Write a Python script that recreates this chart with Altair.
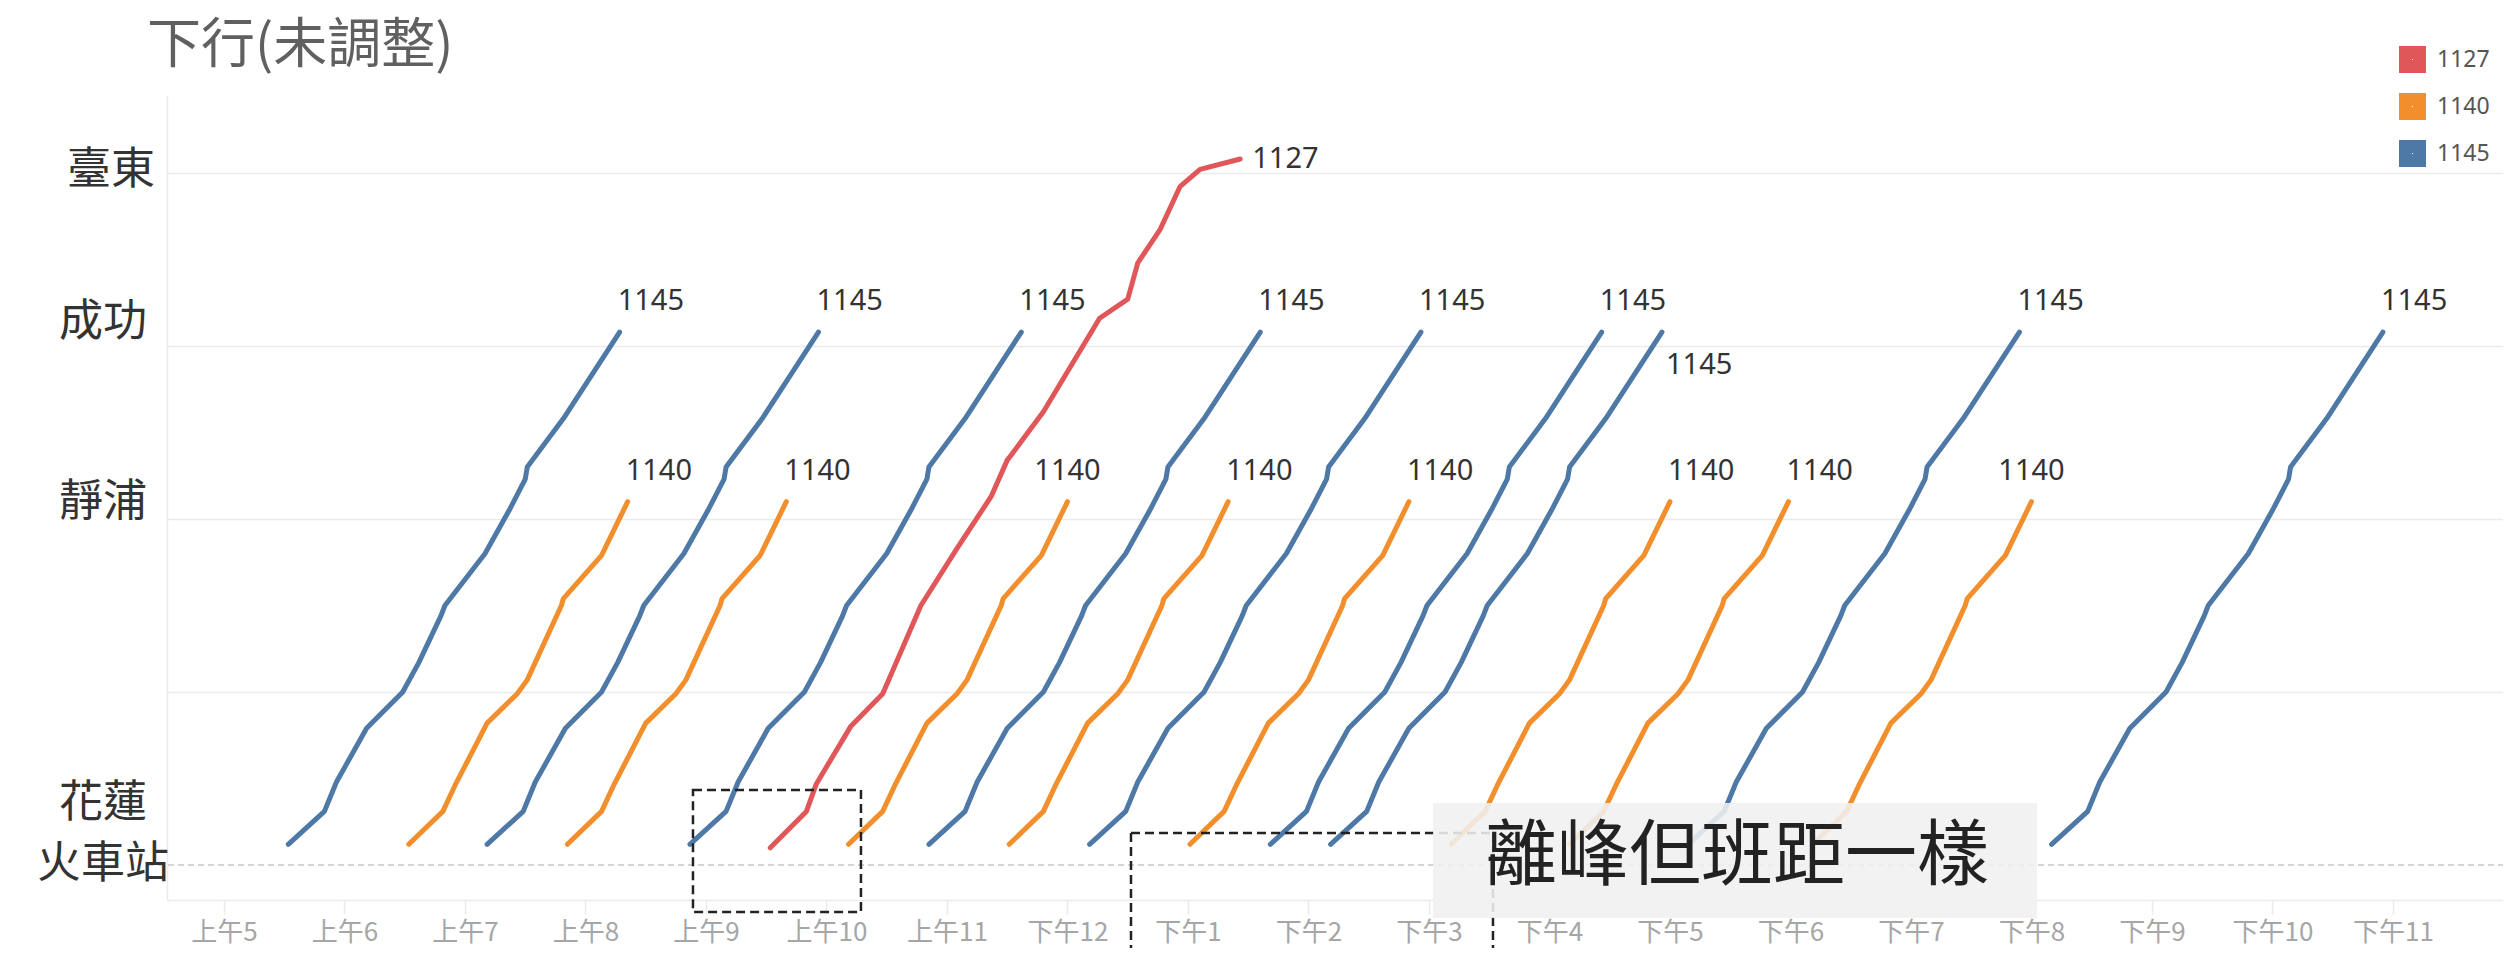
import altair as alt
import pandas as pd

TITLE = "下行(未調整)"
NOTE = "離峰但班距一樣"

routes = ["1127", "1140", "1145"]
route_colors = ["#e15759", "#f28e2b", "#4e79a7"]

# departure times from 花蓮
dep_1145 = ["05:32", "07:11", "08:52", "10:51", "12:11", "13:41", "14:11", "17:09", "20:10"]
dep_1140 = ["06:32", "07:51", "10:11", "11:31", "13:01", "15:11", "16:10", "18:11"]
dep_1127 = ["09:32"]

# stop profile of each route: minutes after departure, position along the road
off_1145 = [0, 18, 24, 39, 57, 65, 76, 78, 98, 110, 118, 119, 137, 151, 165]
pos_1145 = [0.12, 0.31, 0.48, 0.79, 1.00, 1.17, 1.44, 1.50, 1.80, 2.05, 2.23, 2.30, 2.58, 2.83, 3.08]
off_1140 = [0, 17, 23, 39, 54, 59, 76, 77, 96, 109]
pos_1140 = [0.12, 0.31, 0.46, 0.82, 0.99, 1.07, 1.50, 1.54, 1.79, 2.10]
off_1127 = [0, 18, 23, 40, 56, 75, 93, 110, 118, 120, 136, 164, 178, 183, 194, 204, 214, 234]
pos_1127 = [0.10, 0.31, 0.47, 0.80, 0.99, 1.50, 1.83, 2.13, 2.34, 2.37, 2.62, 3.16, 3.27, 3.48, 3.67, 3.92, 4.02, 4.08]

station_names = ["臺東", "成功", "靜浦", "花蓮", "火車站"]
station_pos = [4.01, 3.13, 2.09, 0.35, 0.0]

hour_ticks = list(range(5, 24))
hour_labels = ["上午5", "上午6", "上午7", "上午8", "上午9", "上午10", "上午11", "下午12",
               "下午1", "下午2", "下午3", "下午4", "下午5", "下午6", "下午7", "下午8",
               "下午9", "下午10", "下午11"]
grid_pos = [1, 2, 3, 4]

# label placement of each trip's end label (style)
place_1145 = ["above"] * 6 + ["below"] + ["above"] * 2
place_1140 = ["above", "above", "center", "above", "above", "above", "above", "center"]
place_1127 = ["right"]

# annotation shapes in data units (hours, position)
box1 = {"t": 8.892, "t2": 10.286, "pos": 0.434, "pos2": -0.272}
bracket = {"x_left": 12.527, "x_right": 15.531, "top": 0.185, "bottom": -0.48}
note_box = {"t": 15.033, "t2": 20.046, "pos": 0.358, "pos2": -0.306}
note_at = {"t": 17.556, "pos": 0.046}

X_DOMAIN = [4.527, 23.913]
Y_DOMAIN = [-0.202, 4.45]
W, H = 2336, 805
CJK = "Noto Sans CJK TC"


def to_h(s):
    h, m = s.split(":")
    return int(h) + int(m) / 60


rows, ends = [], []
for route, deps, offs, poss, places in [
    ("1145", dep_1145, off_1145, pos_1145, place_1145),
    ("1140", dep_1140, off_1140, pos_1140, place_1140),
    ("1127", dep_1127, off_1127, pos_1127, place_1127),
]:
    for i, d in enumerate(deps):
        t0 = to_h(d)
        trip = f"{route}-{i}"
        for k, (o, p) in enumerate(zip(offs, poss)):
            rows.append({"route": route, "trip": trip, "t": t0 + o / 60, "pos": p, "k": k})
        ends.append({"route": route, "trip": trip, "t": t0 + offs[-1] / 60, "pos": poss[-1],
                     "place": places[i]})

df = pd.DataFrame(rows)
df_end = pd.DataFrame(ends)

label_expr = "[" + ",".join(f"'{s}'" for s in hour_labels) + "][datum.value - 5]"

X = alt.X("t:Q", scale=alt.Scale(domain=X_DOMAIN, nice=False, zero=False),
          axis=alt.Axis(values=hour_ticks, labelExpr=label_expr, title=None, grid=False,
                        ticks=True, tickColor="#ebebeb", tickSize=14, tickWidth=1.5,
                        labelPadding=5, labelColor="#a6a6a6", labelFontSize=26,
                        labelFont=CJK, domainColor="#ebebeb", domainWidth=1.5))
Y = alt.Y("pos:Q", scale=alt.Scale(domain=Y_DOMAIN, nice=False, zero=False),
          axis=alt.Axis(values=grid_pos, grid=True, gridColor="#ebebeb", gridWidth=1.5,
                        labels=False, ticks=False, title=None, domainColor="#ebebeb",
                        domainWidth=1.5))

zero_rule = alt.Chart(pd.DataFrame({"pos": [0.0]})).mark_rule(
    strokeDash=[6, 4], color="#c8c8c8", strokeWidth=1.5
).encode(y="pos:Q", x=alt.value(-19), x2=alt.value(W))

# legend symbols: small squares with a very thick outline read as filled squares
lines = alt.Chart(df).mark_line(strokeCap="round", strokeJoin="round").encode(
    x=X, y=Y, detail="trip:N", order="k:Q",
    color=alt.Color("route:N", scale=alt.Scale(domain=routes, range=route_colors),
                    legend=alt.Legend(title=None, orient="none", legendX=2232, legendY=-49,
                                      symbolType="square", symbolSize=196,
                                      symbolStrokeWidth=13, labelFontSize=23,
                                      labelColor="#555555", labelFont="Noto Sans",
                                      labelOffset=11, rowPadding=-38, padding=0)),
    strokeWidth=alt.value(5),
)


def end_labels(place, **kw):
    return alt.Chart(df_end).transform_filter(alt.datum.place == place).mark_text(
        fontSize=29, font="Noto Sans", color="#333333", baseline="middle", **kw
    ).encode(x="t:Q", y="pos:Q", text="route:N")


lab_above = end_labels("above", align="left", dx=-2, dy=-31)
lab_center = end_labels("center", align="center", dy=-31)
lab_below = end_labels("below", align="left", dx=4, dy=33)
lab_right = end_labels("right", align="left", dx=12, dy=0)

rect1 = alt.Chart(pd.DataFrame([box1])).mark_rect(
    filled=False, color="#222222", strokeWidth=2.5, strokeDash=[9, 5]
).encode(x="t:Q", x2="t2:Q", y="pos:Q", y2="pos2:Q")

b = bracket
df_br = pd.DataFrame([
    {"t": b["x_left"], "t2": b["x_left"], "pos": b["top"], "pos2": b["bottom"]},
    {"t": b["x_left"], "t2": b["x_right"], "pos": b["top"], "pos2": b["top"]},
    {"t": b["x_right"], "t2": b["x_right"], "pos": b["top"], "pos2": b["bottom"]},
])
bracket_rules = alt.Chart(df_br).mark_rule(
    color="#222222", strokeWidth=2.5, strokeDash=[9, 5]
).encode(x="t:Q", x2="t2:Q", y="pos:Q", y2="pos2:Q")

note_rect = alt.Chart(pd.DataFrame([note_box])).mark_rect(
    color="#f0f0f0", opacity=0.88
).encode(x="t:Q", x2="t2:Q", y="pos:Q", y2="pos2:Q")

note_text = alt.Chart(pd.DataFrame([{**note_at, "txt": NOTE}])).mark_text(
    fontSize=72, font=CJK, color="#222222", align="center", baseline="middle"
).encode(x="t:Q", y="pos:Q", text="txt:N")

df_st = pd.DataFrame({"name": station_names, "pos": station_pos})
stations = alt.Chart(df_st).transform_filter(alt.datum.name != "臺東").mark_text(
    fontSize=44, font=CJK, color="#333333", align="center", baseline="middle"
).encode(x=alt.value(-64), y="pos:Q", text="name:N")
station_top = alt.Chart(df_st).transform_filter(alt.datum.name == "臺東").mark_text(
    fontSize=44, font=CJK, color="#333333", align="center", baseline="middle"
).encode(x=alt.value(-56), y="pos:Q", text="name:N")

title = alt.Chart(pd.DataFrame({"txt": [TITLE]})).mark_text(
    fontSize=54, font=CJK, color="#606060", align="left", baseline="middle"
).encode(x=alt.value(-20), y=alt.value(-48), text="txt:N")

chart = alt.layer(
    zero_rule, lines, lab_above, lab_center, lab_below, lab_right,
    rect1, bracket_rules, note_rect, note_text, stations, station_top, title
).properties(
    width=W, height=H,
    padding={"left": 159, "top": 87, "right": 0, "bottom": 50},
    autosize=alt.AutoSizeParams(type="none"),
    background="white",
).configure_view(stroke=None)

chart.save("out.html", embed_options={"renderer": "svg", "actions": False})
